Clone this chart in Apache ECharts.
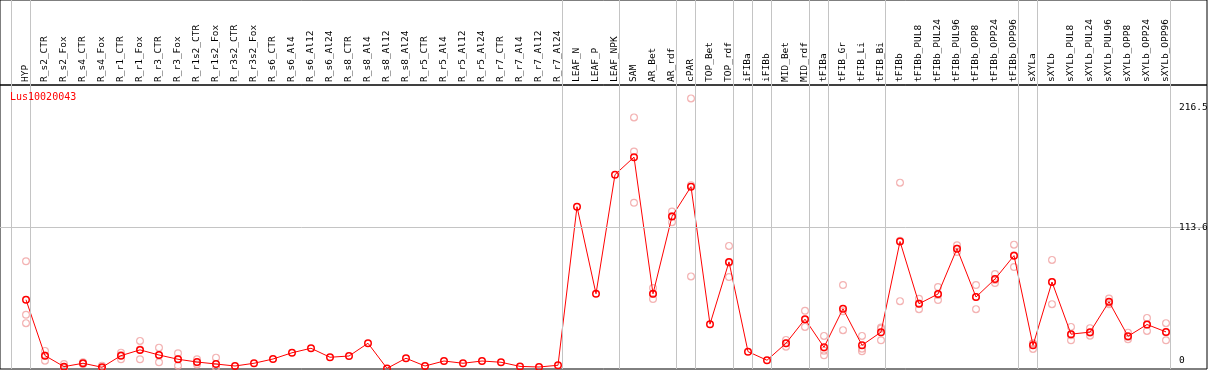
<!DOCTYPE html>
<html>
<head>
<meta charset="utf-8">
<script src="https://cdn.jsdelivr.net/npm/echarts@6/dist/echarts.min.js"></script>
<style>
html,body{margin:0;padding:0;background:#fff;}
#chart{width:1209px;height:370px;}
</style>
</head>
<body>
<div id="chart"></div>
<script>
const geneId = 'Lus10020043';
const categories = ['HYP','R_s2_CTR','R_s2_Fox','R_s4_CTR','R_s4_Fox','R_r1_CTR','R_r1_Fox','R_r3_CTR','R_r3_Fox','R_r1s2_CTR','R_r1s2_Fox','R_r3s2_CTR','R_r3s2_Fox','R_s6_CTR','R_s6_Al4','R_s6_Al12','R_s6_Al24','R_s8_CTR','R_s8_Al4','R_s8_Al12','R_s8_Al24','R_r5_CTR','R_r5_Al4','R_r5_Al12','R_r5_Al24','R_r7_CTR','R_r7_Al4','R_r7_Al12','R_r7_Al24','LEAF_N','LEAF_P','LEAF_NPK','SAM','AR_Bet','AR_rdf','cPAR','TOP_Bet','TOP_rdf','iFIBa','iFIBb','MID_Bet','MID_rdf','tFIBa','tFIB_Gr','tFIB_Li','tFIB_Bi','tFIBb','tFIBb_PUL8','tFIBb_PUL24','tFIBb_PUL96','tFIBb_OPP8','tFIBb_OPP24','tFIBb_OPP96','sXYLa','sXYLb','sXYLb_PUL8','sXYLb_PUL24','sXYLb_PUL96','sXYLb_OPP8','sXYLb_OPP24','sXYLb_OPP96'];
const meanValues = [55.4,10.7,1.9,4.6,1.4,10.7,15.3,11.2,7.8,5.6,4.0,2.4,4.6,8.0,13.0,16.6,9.4,10.4,20.6,0.5,8.6,2.4,6.4,4.6,6.4,5.4,2.1,1.6,3.0,129.8,60.2,155.5,169.5,60.2,122.0,145.9,35.9,85.7,13.9,7.0,20.6,39.9,17.4,48.2,19.0,29.5,102.0,52.2,60.0,96.3,57.6,72.0,90.7,19.0,69.6,27.9,29.5,53.8,26.2,35.6,29.7];
const replicateValues = [
  [86.2,43.4,36.7],[14.5,6.7,10.9],[4.0,0.9,0.8],[5.5,4.2,4.1],[2.7,0.8,0.7],
  [13.1,7.8,11.2],[22.5,7.8,15.6],[17.1,5.4,11.1],[12.6,2.7,8.1],[7.8,3.7,5.3],[9.1,1.5,1.4],
  [],[],[],[],[],[],[],[],[],[],[],[],[],[],[],[],[],[],
  [],[],[],
  [201.3,174.0,133.0],[64.8,56.0,60.0],[126.0,117.5,122.5],
  [216.5,74.1,147.1],
  [],[98.5,73.6,85.0],
  [],[],
  [23.3,17.9,20.6],[46.6,33.7,39.4],
  [26.5,11.0,14.7],
  [67.2,31.1,46.3],[26.5,14.2,16.3],[33.2,23.0,32.3],
  [149.1,54.3,102.6],[56.2,47.9,52.5],[65.6,55.2,59.2],[99.0,93.7,96.2],[67.2,47.9,57.7],[76.0,68.8,71.2],[99.5,81.6,91.0],
  [20.6,16.1,20.3],
  [87.3,51.9,69.6],[33.7,23.0,27.0],[32.7,26.7,29.1],[56.4,51.9,53.1],[29.1,23.8,25.7],[40.9,30.5,35.4],[36.7,23.0,29.4]
];
const groupSizes = [1,28,3,3,1,2,1,1,2,1,3,7,1,7];
const yTickValues = [216.5,113.6,0];
const yAxisMax = 227.2;

// layout constants
const plotLeft = 0, plotWidth = 1207, headerHeight = 85, plotHeight = 284;
const firstX = 26, step = 19;
const xMin = (plotLeft - firstX) / step;
const xMax = (plotLeft + plotWidth - firstX) / step;
const boundaryOffset = 4.5 / step;

const boundaries = [-1];
let acc = -1;
groupSizes.forEach(s => { acc += s; boundaries.push(acc); });
const vLines = boundaries.map(b => ({ xAxis: b + boundaryOffset }));

const repData = [];
replicateValues.forEach((arr, i) => arr.forEach(v => repData.push([i, v])));
const meanData = meanValues.map((v, i) => [i, v]);

const mono = 'DejaVu Sans Mono';
const chart = echarts.init(document.getElementById('chart'), null, { renderer: 'canvas' });
const gray = '#c4c4c4';
chart.setOption({
  animation: false,
  backgroundColor: '#fff',
  title: { text: geneId, left: 10, top: 92, padding: 0,
    textStyle: { color: '#ff0000', fontSize: 10, fontFamily: mono, fontWeight: 'normal' } },
  grid: [
    { left: plotLeft, top: 0, width: plotWidth, height: headerHeight, show: true, borderColor: '#000', borderWidth: 1 },
    { left: plotLeft, top: headerHeight, width: plotWidth, height: plotHeight, show: true, borderColor: '#000', borderWidth: 1 },
    { left: firstX - step / 2, top: headerHeight - 1, width: step * categories.length, height: 1 }
  ],
  xAxis: [
    { gridIndex: 0, type: 'value', min: xMin, max: xMax, show: false },
    { gridIndex: 1, type: 'value', min: xMin, max: xMax, show: false },
    { gridIndex: 2, type: 'category', data: categories, position: 'top',
      axisLine: { show: false }, axisTick: { show: false }, splitLine: { show: false },
      axisLabel: { rotate: 90, interval: 0, margin: 2, fontFamily: mono, fontSize: 9.5, color: '#000' } }
  ],
  yAxis: [
    { gridIndex: 0, type: 'value', min: 0, max: 1, show: false },
    { gridIndex: 1, type: 'value', min: 0, max: yAxisMax, interval: yTickValues[1], show: false },
    { gridIndex: 2, type: 'value', show: false }
  ],
  series: [
    { type: 'line', xAxisIndex: 0, yAxisIndex: 0, data: [], silent: true, z: 1,
      markLine: { silent: true, symbol: 'none', label: { show: false },
        lineStyle: { color: gray, width: 1, type: 'solid' }, data: vLines } },
    { type: 'line', xAxisIndex: 1, yAxisIndex: 1, data: [], silent: true, z: 1,
      markLine: { silent: true, symbol: 'none', label: { show: false },
        lineStyle: { color: gray, width: 1, type: 'solid' },
        data: vLines.concat([{ yAxis: yTickValues[1] }]) } },
    { type: 'scatter', xAxisIndex: 1, yAxisIndex: 1, data: repData, z: 3,
      symbol: 'circle', symbolSize: 6.8,
      itemStyle: { color: 'rgba(0,0,0,0)', borderColor: '#f0a0a0', borderWidth: 1.2 } },
    { type: 'line', xAxisIndex: 1, yAxisIndex: 1, data: meanData, z: 4,
      symbol: 'circle', symbolSize: 6.5, showAllSymbol: true,
      lineStyle: { color: '#ff0000', width: 1 },
      itemStyle: { color: 'rgba(0,0,0,0)', borderColor: '#ff0000', borderWidth: 1.5 } }
  ]
});

// right-hand value labels
const labelShift = [9.5, 1, -8];
const graphics = yTickValues.map((v, k) => {
  const py = chart.convertToPixel({ gridIndex: 1 }, [0, v])[1];
  return { type: 'text', x: 1179, y: py + labelShift[k],
    style: { text: String(v), fill: '#000', font: '9.5px "' + mono + '"', textAlign: 'left', textVerticalAlign: 'middle' }, z: 10 };
});
chart.setOption({ graphic: graphics });
</script>
</body>
</html>
